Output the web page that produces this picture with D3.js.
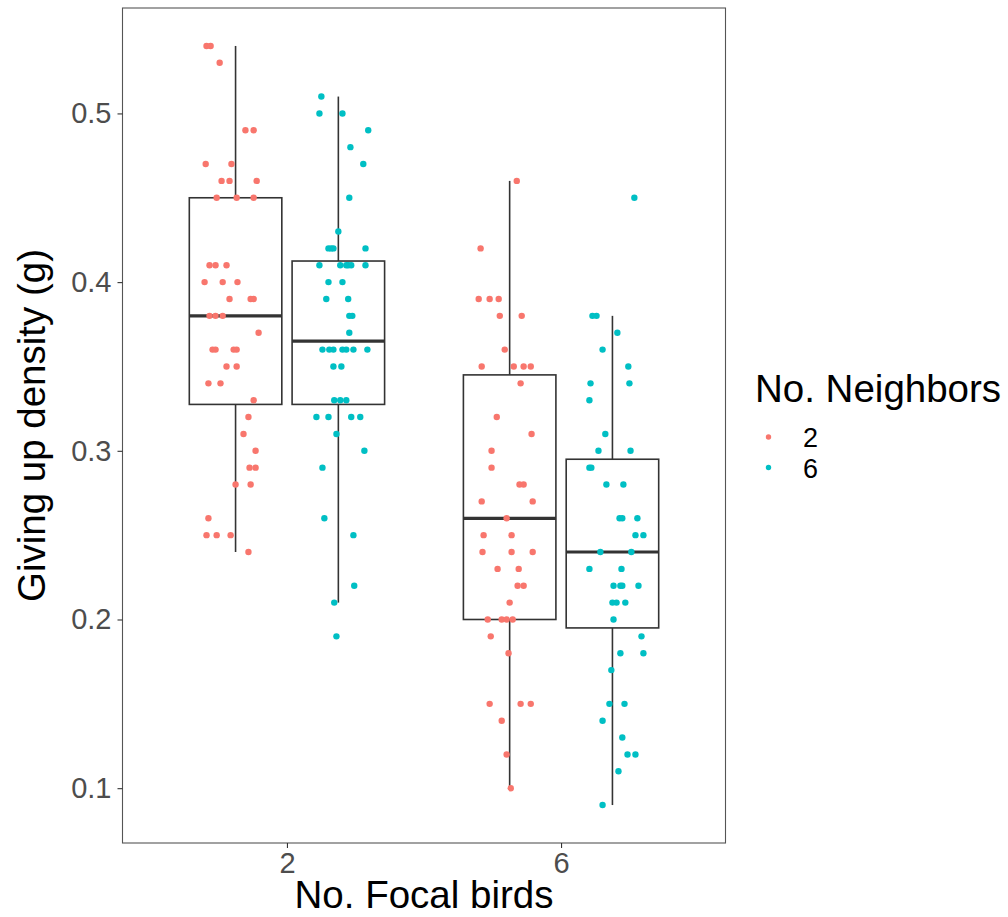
<!DOCTYPE html>
<html>
<head>
<meta charset="utf-8">
<script src="https://cdn.jsdelivr.net/npm/d3@7"></script>
<style>
  html, body { margin: 0; padding: 0; background: #fff; }
  svg { display: block; font-family: "Liberation Sans", Arial, sans-serif; }
</style>
</head>
<body>
<svg id="chart" width="1008" height="917"></svg>
<script>
// Categories
const focalBirds = ["2", "6"];
const neighbors = ["2", "6"];
const neighborColors = ["#F8766D", "#00BFC4"];
const yTicks = [0.1, 0.2, 0.3, 0.4, 0.5];

// Observations: [giving-up density, horizontal jitter in category steps]
const focal2_neigh2 = [
  [0.54, -0.106], [0.54, -0.091], [0.53, -0.058],
  [0.49, 0.036], [0.49, 0.066],
  [0.47, -0.109], [0.47, -0.015],
  [0.46, -0.051], [0.46, -0.022], [0.46, 0.077],
  [0.45, -0.069], [0.45, 0.004], [0.45, 0.066],
  [0.41, -0.095], [0.41, -0.073], [0.41, -0.033],
  [0.40, -0.113], [0.40, -0.047], [0.40, 0.007],
  [0.39, -0.022], [0.39, 0.055], [0.39, 0.066],
  [0.38, -0.095], [0.38, -0.073], [0.38, -0.047],
  [0.37, 0.084],
  [0.36, -0.084], [0.36, -0.073], [0.36, -0.007], [0.36, 0.004],
  [0.35, -0.033], [0.35, 0.004],
  [0.34, -0.099], [0.34, -0.055],
  [0.33, 0.066], [0.32, 0.047], [0.31, 0.029], [0.30, 0.073],
  [0.29, 0.051], [0.29, 0.073],
  [0.28, 0.000], [0.28, 0.055],
  [0.26, -0.099],
  [0.25, -0.106], [0.25, -0.069], [0.25, -0.018],
  [0.24, 0.047]
];
const focal2_neigh6 = [
  [0.51, -0.062], [0.50, -0.069], [0.50, 0.015],
  [0.49, 0.109], [0.48, 0.044], [0.47, 0.091], [0.45, 0.040], [0.43, 0.000],
  [0.42, -0.036], [0.42, -0.026], [0.42, -0.018], [0.42, 0.099],
  [0.41, -0.069], [0.41, 0.007], [0.41, 0.029], [0.41, 0.036], [0.41, 0.047], [0.41, 0.099],
  [0.40, -0.036], [0.40, 0.015],
  [0.39, -0.044], [0.39, 0.036],
  [0.38, 0.040], [0.38, 0.051],
  [0.37, 0.040],
  [0.36, -0.058], [0.36, -0.033], [0.36, -0.018], [0.36, 0.015], [0.36, 0.029], [0.36, 0.055], [0.36, 0.106],
  [0.35, -0.018], [0.35, 0.011],
  [0.33, -0.015], [0.33, 0.007], [0.33, 0.029],
  [0.32, -0.080], [0.32, -0.036], [0.32, 0.047], [0.32, 0.080],
  [0.31, -0.007], [0.30, 0.095], [0.29, -0.058],
  [0.26, -0.051], [0.25, 0.055], [0.22, 0.058], [0.21, -0.015], [0.19, -0.007]
];
const focal6_neigh2 = [
  [0.46, 0.026], [0.42, -0.106],
  [0.39, -0.113], [0.39, -0.073], [0.39, -0.040],
  [0.38, -0.036], [0.38, 0.044],
  [0.36, -0.018],
  [0.35, -0.102], [0.35, 0.015], [0.35, 0.051], [0.35, 0.077],
  [0.34, 0.040], [0.32, -0.047], [0.31, 0.080], [0.30, -0.066], [0.29, -0.066],
  [0.28, 0.036], [0.28, 0.051],
  [0.27, -0.102], [0.27, 0.084],
  [0.26, -0.011],
  [0.25, -0.095], [0.25, 0.007],
  [0.24, -0.099], [0.24, 0.007], [0.24, 0.084],
  [0.23, -0.044], [0.23, 0.033],
  [0.22, 0.029], [0.22, 0.051],
  [0.21, 0.000],
  [0.20, -0.080], [0.20, -0.029], [0.20, -0.011], [0.20, 0.011],
  [0.19, -0.069], [0.18, -0.004],
  [0.15, -0.073], [0.15, 0.040], [0.15, 0.077],
  [0.14, -0.029], [0.12, -0.011], [0.10, 0.004]
];
const focal6_neigh6 = [
  [0.45, 0.080],
  [0.38, -0.073], [0.38, -0.058],
  [0.37, 0.018], [0.36, -0.036], [0.35, 0.058],
  [0.34, -0.080], [0.34, 0.062],
  [0.33, -0.084], [0.31, -0.026],
  [0.30, -0.051], [0.30, 0.066],
  [0.29, -0.084], [0.29, -0.077],
  [0.28, -0.022], [0.28, 0.040],
  [0.26, 0.026], [0.26, 0.036], [0.26, 0.091],
  [0.25, 0.084], [0.25, 0.113],
  [0.24, -0.044], [0.24, 0.069],
  [0.23, -0.084], [0.23, 0.033],
  [0.22, 0.004], [0.22, 0.029], [0.22, 0.036], [0.22, 0.095],
  [0.21, 0.000], [0.21, 0.015], [0.21, 0.047],
  [0.20, 0.004], [0.19, 0.106],
  [0.18, 0.029], [0.18, 0.113],
  [0.17, -0.004],
  [0.15, -0.011], [0.15, 0.044],
  [0.14, -0.036], [0.13, 0.036],
  [0.12, 0.055], [0.12, 0.084],
  [0.11, 0.022], [0.09, -0.036]
];

// Box summaries per group: lower whisker, Q1, median, Q3, upper whisker
const boxFocal   = ["2", "2", "6", "6"];
const boxNeigh   = ["2", "6", "2", "6"];
const boxLower   = [0.24, 0.21, 0.10, 0.09];
const boxQ1      = [0.3275, 0.3275, 0.20, 0.195];
const boxMedian  = [0.38, 0.365, 0.26, 0.24];
const boxQ3      = [0.45, 0.4125, 0.345, 0.295];
const boxUpper   = [0.54, 0.51, 0.46, 0.38];

const groups = [
  { focal: "2", neigh: "2", obs: focal2_neigh2 },
  { focal: "2", neigh: "6", obs: focal2_neigh6 },
  { focal: "6", neigh: "2", obs: focal6_neigh2 },
  { focal: "6", neigh: "6", obs: focal6_neigh6 }
];

const panel = { left: 122.5, right: 725.5, top: 8, bottom: 843 };
const svg = d3.select("#chart");

const x = d3.scalePoint().domain(focalBirds).range([panel.left, panel.right]).padding(0.6);
const step = x.step();
const dodgeWidth = 0.75;
const dodge = d3.scaleBand().domain(neighbors).range([-dodgeWidth / 2, dodgeWidth / 2]);
const groupX = (f, n) => x(f) + (dodge(n) + dodge.bandwidth() / 2) * step;
const boxW = dodge.bandwidth() * 0.9 * step;

const y = d3.scaleLinear().domain([0.0675, 0.5625]).range([panel.bottom, panel.top]);
const color = d3.scaleOrdinal().domain(neighbors).range(neighborColors);

// Panel border
svg.append("rect")
  .attr("x", panel.left).attr("y", panel.top)
  .attr("width", panel.right - panel.left).attr("height", panel.bottom - panel.top)
  .attr("fill", "none").attr("stroke", "#555").attr("stroke-width", 1.1);

// Boxes
const boxes = svg.append("g").attr("stroke", "#333").attr("fill", "none");
boxFocal.forEach((f, i) => {
  const cx = groupX(f, boxNeigh[i]);
  boxes.append("line").attr("x1", cx).attr("x2", cx)
    .attr("y1", y(boxUpper[i])).attr("y2", y(boxQ3[i])).attr("stroke-width", 1.6);
  boxes.append("line").attr("x1", cx).attr("x2", cx)
    .attr("y1", y(boxQ1[i])).attr("y2", y(boxLower[i])).attr("stroke-width", 1.6);
  boxes.append("rect")
    .attr("x", cx - boxW / 2).attr("y", y(boxQ3[i]))
    .attr("width", boxW).attr("height", y(boxQ1[i]) - y(boxQ3[i]))
    .attr("fill", "#fff").attr("stroke-width", 1.6);
  boxes.append("line").attr("x1", cx - boxW / 2).attr("x2", cx + boxW / 2)
    .attr("y1", y(boxMedian[i])).attr("y2", y(boxMedian[i])).attr("stroke-width", 3.2);
});

// Jittered observations
groups.forEach(g => {
  const cx = groupX(g.focal, g.neigh);
  svg.append("g").selectAll("circle").data(g.obs).join("circle")
    .attr("cx", d => cx + d[1] * step)
    .attr("cy", d => y(d[0]))
    .attr("r", 3.2)
    .attr("fill", color(g.neigh));
});

// Y axis
const yAxis = svg.append("g").attr("transform", `translate(${panel.left},0)`)
  .call(d3.axisLeft(y).tickValues(yTicks).tickFormat(d3.format(".1f")).tickSize(5).tickPadding(6));
yAxis.select(".domain").remove();
yAxis.selectAll(".tick line").attr("stroke", "#333").attr("stroke-width", 1.1);
yAxis.selectAll(".tick text").attr("fill", "#4d4d4d").attr("font-size", 29)
  .attr("font-family", "Liberation Sans, Arial, sans-serif");

// X axis
const xAxis = svg.append("g").attr("transform", `translate(0,${panel.bottom})`)
  .call(d3.axisBottom(x).tickSize(5).tickPadding(4));
xAxis.select(".domain").remove();
xAxis.selectAll(".tick line").attr("stroke", "#333").attr("stroke-width", 1.1);
xAxis.selectAll(".tick text").attr("fill", "#4d4d4d").attr("font-size", 29)
  .attr("font-family", "Liberation Sans, Arial, sans-serif");

// Axis titles
svg.append("text")
  .attr("x", (panel.left + panel.right) / 2).attr("y", 908)
  .attr("text-anchor", "middle").attr("font-size", 38.5).attr("fill", "#000")
  .text("No. Focal birds");
svg.append("text")
  .attr("transform", `translate(45,${(panel.top + panel.bottom) / 2}) rotate(-90)`)
  .attr("text-anchor", "middle").attr("font-size", 38.5).attr("fill", "#000")
  .text("Giving up density (g)");

// Legend
const legend = svg.append("g").attr("transform", "translate(755,0)");
legend.append("text").attr("x", 0).attr("y", 402)
  .attr("font-size", 38.5).attr("fill", "#000").text("No. Neighbors");
neighbors.forEach((n, i) => {
  const cy = 437 + i * 30.5;
  legend.append("circle").attr("cx", 13.5).attr("cy", cy).attr("r", 2.7).attr("fill", color(n));
  legend.append("text").attr("x", 48).attr("y", cy + 10)
    .attr("font-size", 27).attr("fill", "#000").text(n);
});
</script>
</body>
</html>
